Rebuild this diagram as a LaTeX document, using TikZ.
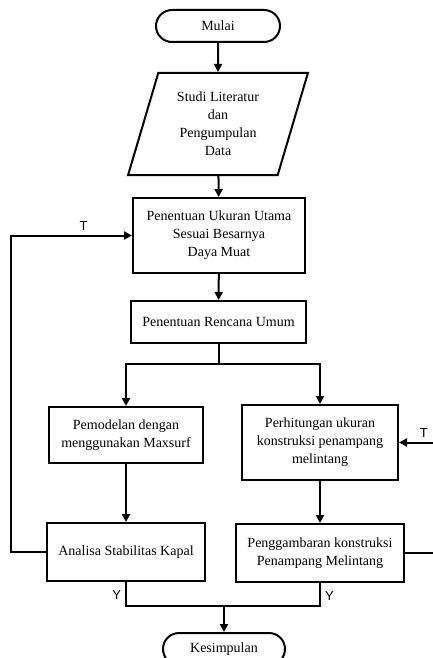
\documentclass[tikz,border=0pt]{standalone}
\usepackage{fontspec}
\setmainfont{Liberation Serif}
\newfontfamily\labelfont{Liberation Sans}
\usetikzlibrary{positioning}
\usetikzlibrary{shapes.misc,shapes.geometric}
\usetikzlibrary{arrows.meta}
\usetikzlibrary{calc}

\begin{document}
\begin{tikzpicture}[x=1pt, y=-1pt, line width=2pt,
    >={Triangle[length=8pt,width=8pt]},
    every node/.style={font=\fontsize{14}{18}\selectfont, align=center, inner sep=0pt},
    termBox/.style={rounded rectangle, draw, minimum width=124pt, minimum height=32pt},
    ioBox/.style={trapezium, trapezium left angle=72, trapezium right angle=108,
        trapezium stretches=true, draw, minimum width=180pt, minimum height=102pt},
    procBox/.style={rectangle, draw},
    yesNo/.style={font=\labelfont\fontsize{13}{15}\selectfont}
  ]
    \useasboundingbox (0,0) rectangle (433,658);
    \clip (0,0) rectangle (433,658);

    % main column
    \node[termBox] (mulai) at (218,26) {Mulai};
    \node[ioBox] (studi) at (218,124) {Studi Literatur\\dan\\Pengumpulan\\Data};
    \node[procBox, minimum width=172pt, minimum height=75pt] (ukuran) at (219,235.5)
        {Penentuan Ukuran Utama\\Sesuai Besarnya\\Daya Muat};
    \node[procBox, minimum width=175pt, minimum height=42pt] (rencana) at (218.5,322)
        {Penentuan Rencana Umum};
    \coordinate (split) at (218.5,364);

    % two branches
    \node[procBox, minimum width=154pt, minimum height=56pt] (pemodelan) at (126,435)
        {Pemodelan dengan\\menggunakan Maxsurf};
    \node[procBox, minimum width=156pt, minimum height=75pt] (perhitungan) at (320,442.5)
        {Perhitungan ukuran\\konstruksi penampang\\melintang};
    \node[procBox, minimum width=158pt, minimum height=58pt] (analisa) at (126,552)
        {Analisa Stabilitas Kapal};
    \node[procBox, minimum width=168pt, minimum height=58pt] (penggambaran) at (320,553)
        {Penggambaran konstruksi\\Penampang Melintang};

    \coordinate (join) at (224,606);
    \node[termBox, minimum width=122pt] (kesimpulan) at (224,649) {Kesimpulan};

    % connectors
    \draw[->] (mulai) -- (studi);
    \draw[->] (studi) -- (ukuran);
    \draw[->] (ukuran) -- (rencana);
    \draw (rencana) -- (split);
    \draw[->] (split) -| (pemodelan);
    \draw[->] (split) -| (perhitungan);
    \draw[->] (pemodelan) -- (analisa);
    \draw[->] (perhitungan) -- (penggambaran);

    % loops back
    \draw[->] (analisa.west) -- ++(-35,0) |- node[yesNo, pos=0.8, above=4pt] {T} (ukuran.west);
    \draw[->] (penggambaran.east) -- ++(40,0) |- node[yesNo, pos=0.73, above=4pt] {T} (perhitungan.east);

    % to the end
    \draw (analisa.south) |- node[yesNo, pos=0.28, left=4pt] {Y} (join);
    \draw (penggambaran.south) |- node[yesNo, pos=0.28, right=4pt] {Y} (join);
    \draw[->] (join) -- (kesimpulan);
\end{tikzpicture}
\end{document}
